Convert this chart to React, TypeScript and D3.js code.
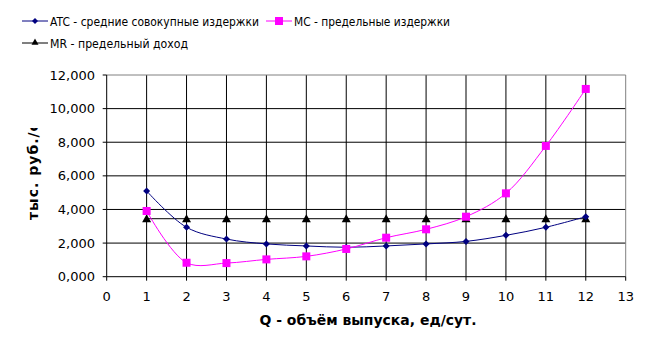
import React from "react";
import * as d3 from "d3";

const qValues = [1, 2, 3, 4, 5, 6, 7, 8, 9, 10, 11, 12];
const atcValues = [5.1, 2.94, 2.24, 1.95, 1.83, 1.75, 1.83, 1.95, 2.1, 2.46, 2.94, 3.57];
const mcValues = [3.91, 0.83, 0.81, 1.03, 1.21, 1.65, 2.32, 2.82, 3.57, 4.96, 7.78, 11.17];
const mrValues = [3.45, 3.45, 3.45, 3.45, 3.45, 3.45, 3.45, 3.45, 3.45, 3.45, 3.45, 3.45];
const xTicks = [0, 1, 2, 3, 4, 5, 6, 7, 8, 9, 10, 11, 12, 13];
const yTicks = [0, 2, 4, 6, 8, 10, 12];
const legendLabels = ["ATC - средние совокупные издержки", "MC - предельные издержки", "MR - предельный доход"];
const yTitle = "тыс. руб./сут.";
const xTitle = "Q - объём выпуска, ед/сут.";

const W = 653, H = 349;
const L = 106.7, R = 625.7, T = 75, B = 276.7;
const font = "'DejaVu Sans', sans-serif";

export default function App() {
  const x = d3.scaleLinear().domain([0, 13]).range([L, R]);
  const y = d3.scaleLinear().domain([0, 12]).range([B, T]);
  const smooth = d3.line<number>().x((_, i) => x(qValues[i])).y(d => y(d)).curve(d3.curveCatmullRom.alpha(0.5));
  const straight = d3.line<number>().x((_, i) => x(qValues[i])).y(d => y(d));
  const yLabel = (v: number) => (v === 0 ? "0,000" : `${v},000`);
  const diamond = (cx: number, cy: number, s = 3.5) => `M${cx},${cy - s}L${cx + s},${cy}L${cx},${cy + s}L${cx - s},${cy}Z`;
  const tri = (cx: number, cy: number, s = 4.5) => `M${cx},${cy - s}L${cx + s},${cy + s * 0.8}L${cx - s},${cy + s * 0.8}Z`;
  return (
    <svg width={W} height={H} style={{ position: "absolute", left: 0, top: 0 }} fontFamily={font}>
      <rect width={W} height={H} fill="#fff" />
      {yTicks.slice(1, -1).map(t => (
        <line key={"gy" + t} x1={L} x2={R} y1={y(t)} y2={y(t)} stroke="#000" strokeWidth={1} />
      ))}
      {xTicks.slice(1, -1).map(t => (
        <line key={"gx" + t} x1={x(t)} x2={x(t)} y1={T} y2={B} stroke="#000" strokeWidth={1} />
      ))}
      <line x1={L} x2={R} y1={T} y2={T} stroke="#808080" />
      <line x1={R} x2={R} y1={T} y2={B} stroke="#808080" />
      <line x1={L} x2={L} y1={T} y2={B} stroke="#000" />
      <line x1={L} x2={R} y1={B} y2={B} stroke="#000" />
      {yTicks.map(t => (
        <g key={"ty" + t}>
          <line x1={L - 4} x2={L} y1={y(t)} y2={y(t)} stroke="#000" />
          <text x={95} y={y(t)} dy="0.35em" textAnchor="end" fontSize={13}>{yLabel(t)}</text>
        </g>
      ))}
      {xTicks.map(t => (
        <g key={"tx" + t}>
          <line x1={x(t)} x2={x(t)} y1={B} y2={B + 4} stroke="#000" />
          <text x={x(t)} y={296} dy="0.35em" textAnchor="middle" fontSize={13}>{t}</text>
        </g>
      ))}
      <defs>
        <clipPath id="ytc"><rect x={0} y={128} width={80} height={200} /></clipPath>
      </defs>
      <g clipPath="url(#ytc)">
        <text transform={`translate(38,220) rotate(-90)`} fontSize={14} fontWeight="bold" letterSpacing={1}>{yTitle}</text>
      </g>
      <text x={368} y={325} textAnchor="middle" fontSize={14} fontWeight="bold" textLength={217} lengthAdjust="spacingAndGlyphs">{xTitle}</text>
      <path d={straight(mrValues) || ""} fill="none" stroke="#000" strokeWidth={1} />
      <path d={smooth(atcValues) || ""} fill="none" stroke="#000080" strokeWidth={1} />
      <path d={smooth(mcValues) || ""} fill="none" stroke="#ff00ff" strokeWidth={1} />
      {mrValues.map((v, i) => <path key={"mr" + i} d={tri(x(qValues[i]), y(v))} fill="#000" />)}
      {atcValues.map((v, i) => <path key={"atc" + i} d={diamond(x(qValues[i]), y(v))} fill="#000080" />)}
      {mcValues.map((v, i) => <rect key={"mc" + i} x={x(qValues[i]) - 4} y={y(v) - 4} width={8} height={8} fill="#ff00ff" />)}
      <line x1={22} x2={48} y1={21} y2={21} stroke="#000080" />
      <path d={diamond(35, 21, 3)} fill="#000080" />
      <text x={50} y={21} dy="0.35em" fontSize={13} textLength={209} lengthAdjust="spacingAndGlyphs">{legendLabels[0]}</text>
      <line x1={266} x2={292} y1={21} y2={21} stroke="#ff00ff" />
      <rect x={275} y={17} width={8} height={8} fill="#ff00ff" />
      <text x={294} y={21} dy="0.35em" fontSize={13} textLength={156} lengthAdjust="spacingAndGlyphs">{legendLabels[1]}</text>
      <line x1={22} x2={48} y1={43} y2={43} stroke="#000" />
      <path d={tri(35, 42, 3.5)} fill="#000" />
      <text x={50} y={43} dy="0.35em" fontSize={13} textLength={138} lengthAdjust="spacingAndGlyphs">{legendLabels[2]}</text>
    </svg>
  );
}
